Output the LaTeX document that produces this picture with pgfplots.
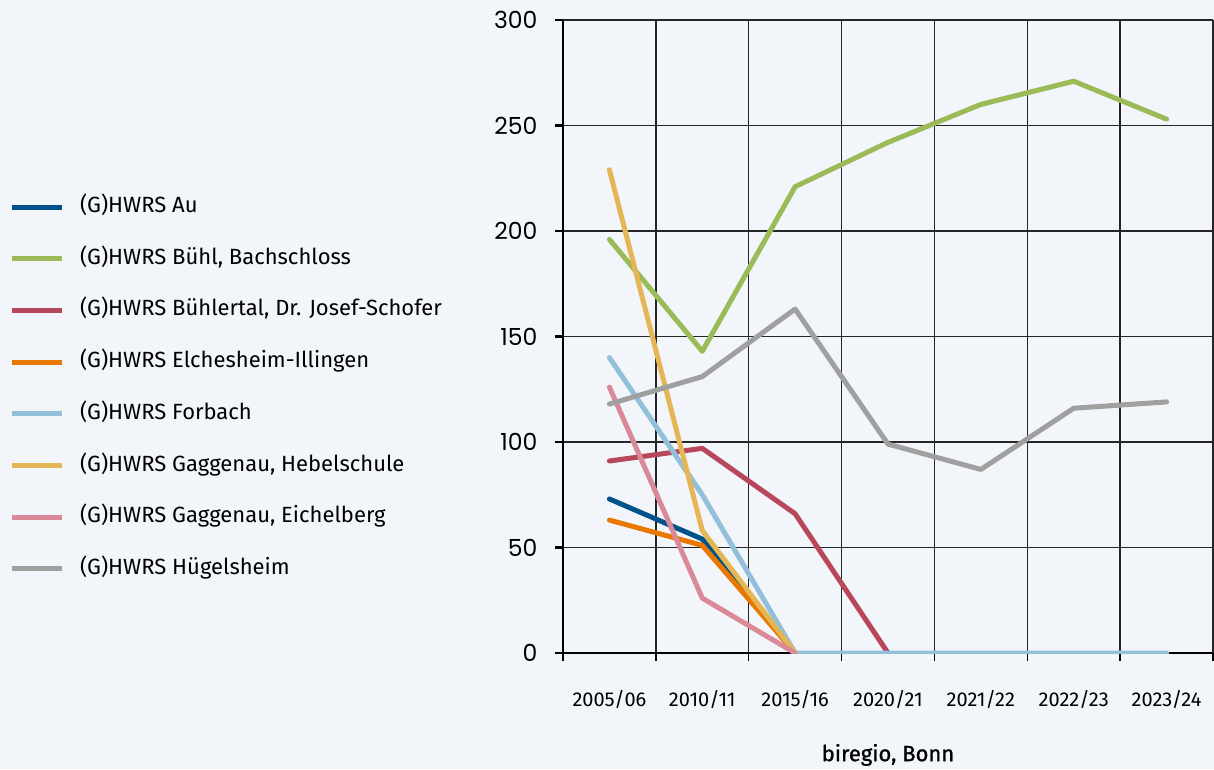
\documentclass[border=0pt]{standalone}
\usepackage{fontspec}
\setmainfont{Fira Sans}
\newfontfamily\yfont{Poppins}
\newfontfamily\medfont[FakeBold=1]{Fira Sans}
\usepackage{pgfplots}
\pgfplotsset{compat=1.18}
\definecolor{bg}{RGB}{242,245,249}
\definecolor{cAu}{RGB}{0,83,138}
\definecolor{cBuehl}{RGB}{155,187,89}
\definecolor{cBuehlertal}{RGB}{183,71,90}
\definecolor{cElch}{RGB}{232,120,0}
\definecolor{cForbach}{RGB}{146,192,218}
\definecolor{cHebel}{RGB}{229,182,85}
\definecolor{cEichel}{RGB}{218,138,150}
\definecolor{cHuegel}{RGB}{160,160,160}
\begin{document}
\begin{tikzpicture}[x=1pt,y=1pt]
\fill[bg] (0,0) rectangle (1214,769);
\begin{axis}[
  at={(563pt,116pt)}, anchor=south west,
  width=650pt, height=633pt, scale only axis,
  xmin=-0.5, xmax=6.5, ymin=0, ymax=300,
  axis lines*=left,
  axis line style={line width=2.5pt, black},
  xtick={0,...,6},
  xticklabels={2005/06,2010/11,2015/16,2020/21,2021/22,2022/23,2023/24},
  minor xtick={-0.5,0.5,...,6.5},
  ytick={0,50,...,300},
  tick align=outside,
  major tick length=8pt, minor tick length=8pt,
  major x tick style={draw=none},
  minor x tick style={line width=1.3pt, black},
  major y tick style={line width=2.5pt, black},
  xminorgrids, ymajorgrids,
  grid style={line width=1.3pt, black!85},
  minor grid style={line width=1.3pt, black!85},
  /pgf/number format/assume math mode=true,
  xticklabel style={font=\fontsize{20}{22}\selectfont, yshift=-26pt},
  yticklabel style={font=\yfont\fontsize{23.5}{26}\selectfont, xshift=-14pt},
  xlabel={biregio, Bonn},
  xlabel style={font=\medfont\fontsize{22}{24}\selectfont, at={(axis description cs:0.5,-0.161)}, anchor=center},
  legend style={at={(rel axis cs:-0.8523,0.7211)}, anchor=north west,
    draw=none, fill=none, inner sep=0pt, outer sep=0pt,
    row sep=30.7pt,
    font=\fontsize{22}{26}\selectfont,
    nodes={inner sep=0pt, text height=16pt, text depth=5pt},
    cells={anchor=west},
    /tikz/every odd column/.append style={column sep=16pt}},
  legend image code/.code={\draw[#1, line width=5pt, line cap=butt] (0pt,0pt) -- (50pt,0pt);},
  every axis plot/.append style={line width=5pt, line join=round, line cap=round},
]
\addplot[cAu] coordinates {(0,73) (1,54) (2,0)};
\addlegendentry{(G)HWRS Au}
\addplot[cBuehl] coordinates {(0,196) (1,143) (2,221) (3,242) (4,260) (5,271) (6,253)};
\addlegendentry{(G)HWRS Bühl, Bachschloss}
\addplot[cBuehlertal] coordinates {(0,91) (1,97) (2,66) (3,0)};
\addlegendentry{(G)HWRS Bühlertal, Dr. Josef-Schofer}
\addplot[cElch] coordinates {(0,63) (1,51) (2,0)};
\addlegendentry{(G)HWRS Elchesheim-Illingen}
\addplot[cForbach] coordinates {(0,140) (1,75) (2,0) (3,0) (4,0) (5,0) (6,0)};
\addlegendentry{(G)HWRS Forbach}
\addplot[cHebel] coordinates {(0,229) (1,58) (2,0)};
\addlegendentry{(G)HWRS Gaggenau, Hebelschule}
\addplot[cEichel] coordinates {(0,126) (1,26) (2,0)};
\addlegendentry{(G)HWRS Gaggenau, Eichelberg}
\addplot[cHuegel] coordinates {(0,118) (1,131) (2,163) (3,99) (4,87) (5,116) (6,119)};
\addlegendentry{(G)HWRS Hügelsheim}
\end{axis}
\pgfresetboundingbox
\path (0,0) rectangle (1214,769);
\end{tikzpicture}
\end{document}
